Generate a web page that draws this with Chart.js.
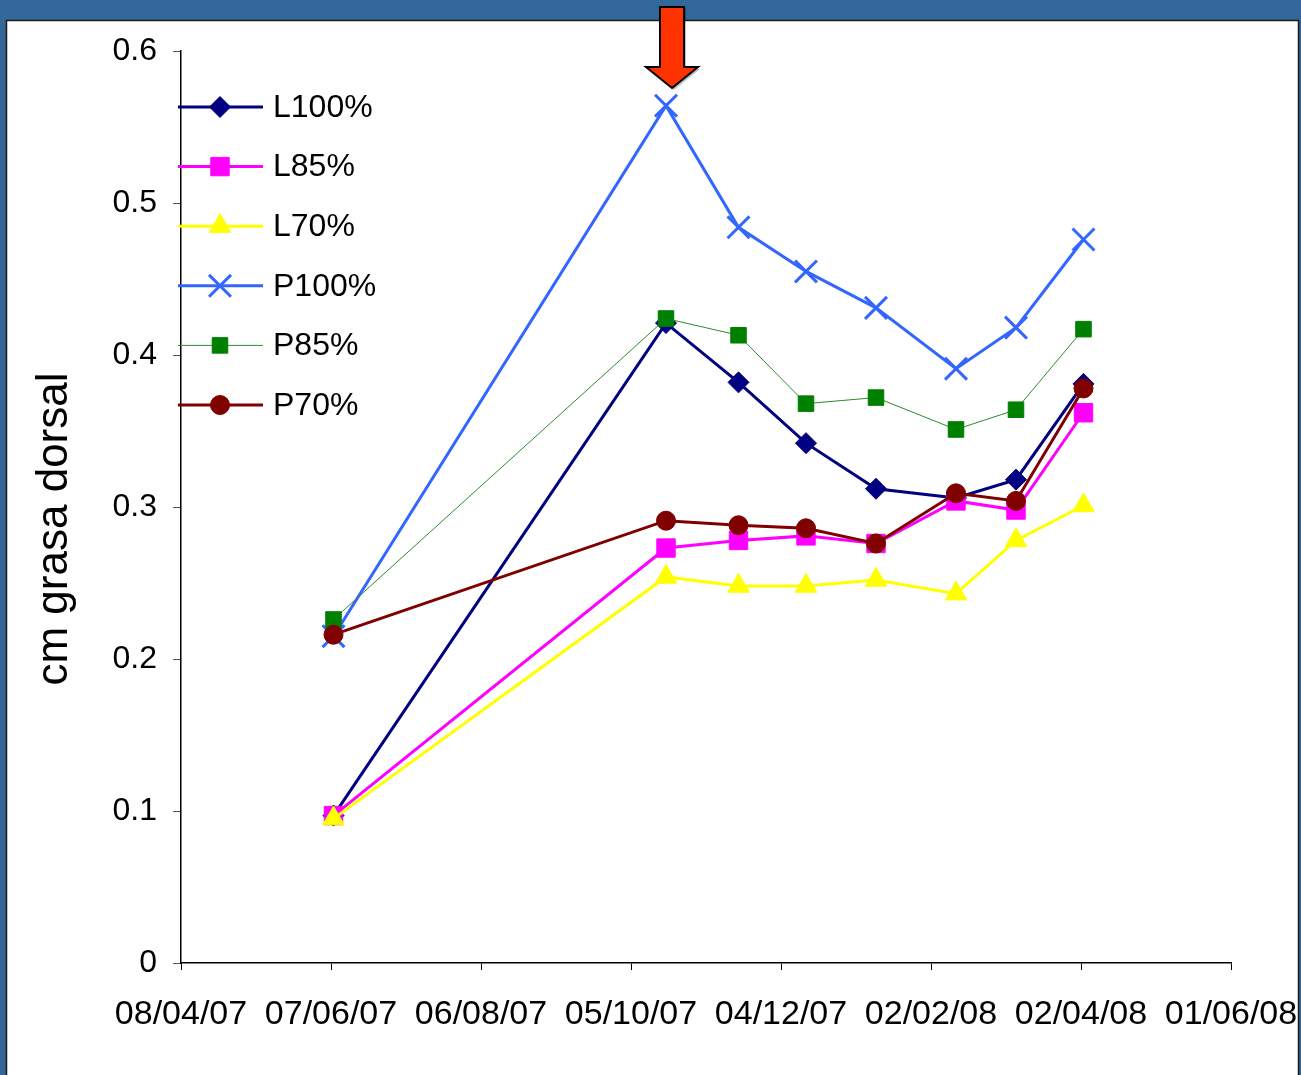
<!DOCTYPE html>
<html>
<head>
<meta charset="utf-8">
<script src="https://cdn.jsdelivr.net/npm/chart.js@4/dist/chart.umd.min.js"></script>
<style>
  html, body { margin: 0; padding: 0; background: #336699; }
  canvas { display: block; }
</style>
</head>
<body>
<canvas id="chart" width="1301" height="1075"></canvas>
<script>
// x positions are days counted from 08/04/07, ticks every 60 days
const tickLabels = ['08/04/07', '07/06/07', '06/08/07', '05/10/07', '04/12/07', '02/02/08', '02/04/08', '01/06/08'];
const sampleDays = [61, 194, 223, 250, 278, 310, 334, 361];

const seriesNames = ['L100%', 'L85%', 'L70%', 'P100%', 'P85%', 'P70%'];
const l100 = [0.097, 0.421, 0.382, 0.342, 0.312, 0.306, 0.318, 0.381];
const l85  = [0.097, 0.273, 0.278, 0.281, 0.276, 0.304, 0.298, 0.362];
const l70  = [0.095, 0.254, 0.248, 0.248, 0.252, 0.243, 0.278, 0.301];
const p100 = [0.215, 0.564, 0.484, 0.455, 0.431, 0.391, 0.418, 0.476];
const p85  = [0.226, 0.424, 0.413, 0.368, 0.372, 0.351, 0.364, 0.417];
const p70  = [0.216, 0.291, 0.288, 0.286, 0.276, 0.309, 0.304, 0.378];

const allValues = [l100, l85, l70, p100, p85, p70];
const colors = ['#000080', '#FF00FF', '#FFFF00', '#3366FF', '#008000', '#800000'];
const lineColors = ['#000080', '#FF00FF', '#FFFF00', '#3366FF', '#2E8B2E', '#800000'];
const styles = ['rectRot', 'rect', 'triangle', 'crossRot', 'rect', 'circle'];
const radii = [10.5, 13, 12.5, 15.5, 11, 9.5];
const widths = [3, 3, 3, 3, 1, 3];

const FONT = '"Liberation Sans", Arial, sans-serif';

function toPoints(vals) {
  return vals.map((v, i) => ({ x: sampleDays[i], y: v }));
}

const datasets = allValues.map((vals, i) => ({
  label: seriesNames[i],
  data: toPoints(vals),
  borderColor: lineColors[i],
  backgroundColor: colors[i],
  borderWidth: widths[i],
  pointStyle: styles[i],
  pointRadius: radii[i],
  pointHoverRadius: radii[i],
  pointBackgroundColor: colors[i],
  pointBorderColor: colors[i],
  pointBorderWidth: styles[i] === 'crossRot' ? 3 : 1,
  tension: 0,
  order: 5 - i,
  clip: false
}));

// frame, arrow, legend and axis title
const decor = {
  id: 'decor',
  beforeDraw(chart) {
    const ctx = chart.ctx;
    ctx.save();
    ctx.fillStyle = '#336699';
    ctx.fillRect(0, 0, chart.width, chart.height);
    ctx.fillStyle = '#ffffff';
    ctx.fillRect(7, 20, 1291, chart.height - 20);
    ctx.strokeStyle = '#1a1a1a';
    ctx.lineWidth = 1.5;
    ctx.beginPath();
    ctx.moveTo(6.5, chart.height);
    ctx.lineTo(6.5, 20.5);
    ctx.lineTo(1298.5, 20.5);
    ctx.lineTo(1298.5, chart.height);
    ctx.stroke();
    ctx.restore();
  },
  afterDraw(chart) {
    const ctx = chart.ctx;
    const xs = chart.scales.x;
    ctx.save();

    // arrow over the P100 peak
    const peakIdx = p100.indexOf(Math.max(...p100));
    const ax = xs.getPixelForValue(sampleDays[peakIdx]) + 6;
    ctx.beginPath();
    ctx.moveTo(ax - 12, 7);
    ctx.lineTo(ax + 12, 7);
    ctx.lineTo(ax + 12, 67);
    ctx.lineTo(ax + 26, 67);
    ctx.lineTo(ax, 88);
    ctx.lineTo(ax - 26, 67);
    ctx.lineTo(ax - 12, 67);
    ctx.closePath();
    ctx.shadowColor = 'rgba(0,0,0,0.25)';
    ctx.shadowOffsetX = 2;
    ctx.shadowOffsetY = 2;
    ctx.fillStyle = '#FF3300';
    ctx.fill();
    ctx.shadowColor = 'transparent';
    ctx.lineWidth = 2;
    ctx.strokeStyle = '#000000';
    ctx.lineJoin = 'miter';
    ctx.stroke();

    // legend
    ctx.font = '32px ' + FONT;
    ctx.textBaseline = 'middle';
    ctx.textAlign = 'left';
    seriesNames.forEach((name, i) => {
      const y = 107 + i * 59.6;
      ctx.strokeStyle = lineColors[i];
      ctx.lineWidth = widths[i];
      ctx.beginPath();
      ctx.moveTo(178, y);
      ctx.lineTo(263, y);
      ctx.stroke();
      ctx.fillStyle = colors[i];
      ctx.strokeStyle = colors[i];
      ctx.lineWidth = styles[i] === 'crossRot' ? 3 : 1;
      Chart.helpers.drawPoint(ctx, {
        pointStyle: styles[i],
        radius: radii[i],
        borderWidth: styles[i] === 'crossRot' ? 3 : 1,
        rotation: 0
      }, 220, y);
      ctx.fillStyle = '#000000';
      ctx.fillText(name, 273, y + 1);
    });

    // y axis title
    ctx.translate(55, 529);
    ctx.rotate(-Math.PI / 2);
    ctx.font = '44px ' + FONT;
    ctx.textAlign = 'center';
    ctx.fillStyle = '#000000';
    ctx.fillText('cm grasa dorsal', 0, 0);
    ctx.restore();
  }
};

new Chart(document.getElementById('chart'), {
  type: 'line',
  data: { datasets: datasets },
  options: {
    responsive: false,
    animation: false,
    layout: { padding: { top: 51, right: 70, bottom: 0, left: 0 } },
    plugins: {
      legend: { display: false },
      tooltip: { enabled: false }
    },
    scales: {
      x: {
        type: 'linear',
        min: 0,
        max: 420,
        afterFit(scale) {
          scale.height = 112;
          scale.paddingLeft = 0;
          scale.paddingRight = 0;
        },
        afterBuildTicks(scale) {
          scale.ticks = tickLabels.map((t, i) => ({ value: i * 60 }));
        },
        ticks: {
          autoSkip: false,
          maxRotation: 0,
          padding: 24,
          color: '#000000',
          font: { family: FONT, size: 34 },
          callback: (value) => tickLabels[Math.round(value / 60)]
        },
        grid: { drawOnChartArea: false, drawTicks: true, tickLength: 7, color: '#000000' },
        border: { display: true, color: '#000000', width: 1.5 }
      },
      y: {
        min: 0,
        max: 0.6,
        afterFit(scale) {
          scale.width = 181;
          scale.paddingTop = 0;
          scale.paddingBottom = 0;
        },
        ticks: {
          stepSize: 0.1,
          padding: 16,
          color: '#000000',
          font: { family: FONT, size: 32 },
          callback: (value) => value === 0 ? '0' : value.toFixed(1)
        },
        grid: { drawOnChartArea: false, drawTicks: true, tickLength: 8, color: '#555555' },
        border: { display: true, color: '#000000', width: 1.5 }
      }
    }
  },
  plugins: [decor]
});
</script>
</body>
</html>
